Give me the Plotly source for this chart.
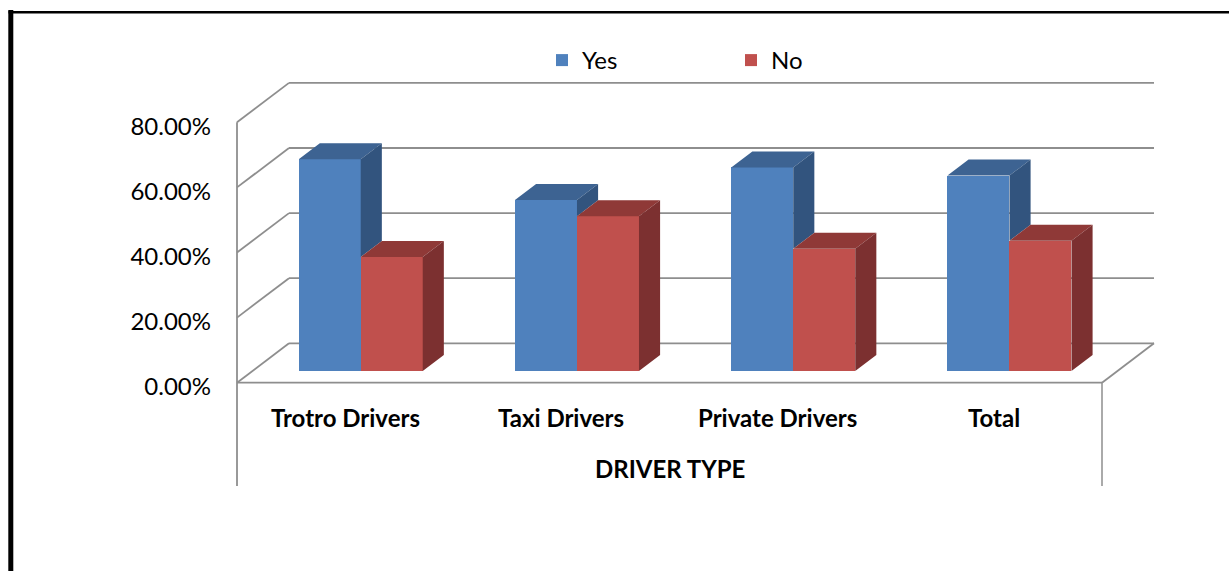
import plotly.graph_objects as go

# ---- data -------------------------------------------------------------
categories = ["Trotro Drivers", "Taxi Drivers", "Private Drivers", "Total"]
yes_pct = [65.0, 52.5, 62.5, 60.0]
no_pct = [35.0, 47.5, 37.5, 40.0]
y_ticks = [0, 20, 40, 60, 80]
axis_title = "DRIVER TYPE"

# ---- pseudo-3D geometry (data units) -----------------------------------
W, H = 1229, 571
SX = 216.25          # px per category unit
SY = 3.255           # px per percentage point
X0_PX, Y0_PX = 237, 382.7   # pixel position of (0, 0)

DEPTH_DX = 52 / SX   # floor depth, horizontal component
DEPTH_DY = 39.4 / SY # floor depth, vertical component
BAR_POS = 0.30       # bars stand 30% of the way into the floor
BAR_DEPTH = 0.406    # bar depth as fraction of floor depth
BAR_W = 62 / SX

BASE = BAR_POS * DEPTH_DY
SHIFT = BAR_POS * DEPTH_DX
BDX = BAR_DEPTH * DEPTH_DX
BDY = BAR_DEPTH * DEPTH_DY

# plot area (integer margins) and the matching axis ranges
M_L, M_R, M_T, M_B = 226, 62, 73, 84
x_range = [(M_L - X0_PX) / SX, (W - M_R - X0_PX) / SX]
y_range = [(Y0_PX - (H - M_B)) / SY, (Y0_PX - M_T) / SY]
Y_LABEL_BOTTOM = (Y0_PX - 486) / SY

BLUE, BLUE_TOP, BLUE_SIDE = "#4F81BD", "#3D6392", "#32547E"
RED, RED_TOP, RED_SIDE = "#C0504D", "#8F3937", "#7C3030"
GRID = "#8E8E8E"
FONT = "Lato"

n = len(categories)
yes_x = [i + 0.5 + SHIFT - BAR_W / 2 for i in range(n)]
no_x = [i + 0.5 + SHIFT + BAR_W / 2 for i in range(n)]


def poly_trace(polys, color):
    xs, ys = [], []
    for p in polys:
        for (px, py) in p + [p[0]]:
            xs.append(px)
            ys.append(py)
        xs.append(None)
        ys.append(None)
    return go.Scatter(x=xs, y=ys, mode="lines", fill="toself", fillcolor=color,
                      line=dict(width=0, color=color), hoverinfo="skip",
                      showlegend=False, cliponaxis=False)


def top_face(cx, v):
    xl, xr, yt = cx - BAR_W / 2, cx + BAR_W / 2, BASE + v
    return [(xl, yt), (xr, yt), (xr + BDX, yt + BDY), (xl + BDX, yt + BDY)]


def side_face(cx, v, lo=0.0):
    xr, yt = cx + BAR_W / 2, BASE + v
    yb = BASE + lo
    return [(xr, yb), (xr + BDX, yb + BDY), (xr + BDX, yt + BDY), (xr, yt)]


fig = go.Figure()

# front faces
fig.add_trace(go.Bar(x=yes_x, y=yes_pct, base=BASE, width=BAR_W, name="Yes",
                     marker=dict(color=BLUE, line=dict(width=0))))
fig.add_trace(go.Bar(x=no_x, y=no_pct, base=BASE, width=BAR_W, name="No",
                     marker=dict(color=RED, line=dict(width=0))))

# "Yes" tops and the part of each "Yes" side not hidden by the "No" bar
fig.add_trace(poly_trace([top_face(c, v) for c, v in zip(yes_x, yes_pct)], BLUE_TOP))
fig.add_trace(poly_trace([side_face(c, v, lo) for c, v, lo in zip(yes_x, yes_pct, no_pct) if v > lo],
                         BLUE_SIDE))
# "No" tops and sides
fig.add_trace(poly_trace([top_face(c, v) for c, v in zip(no_x, no_pct)], RED_TOP))
fig.add_trace(poly_trace([side_face(c, v) for c, v in zip(no_x, no_pct)], RED_SIDE))

# ---- walls, floor and label box ----------------------------------------
shapes = []
line = dict(color=GRID, width=1.8)
for t in y_ticks:
    shapes.append(dict(type="line", xref="x", yref="y", layer="below",
                       x0=DEPTH_DX, y0=t + DEPTH_DY, x1=n + DEPTH_DX, y1=t + DEPTH_DY, line=line))
    shapes.append(dict(type="line", xref="x", yref="y", layer="below",
                       x0=0, y0=t, x1=DEPTH_DX, y1=t + DEPTH_DY, line=line))
shapes.append(dict(type="line", xref="x", yref="y", layer="below",
                   x0=0, y0=0, x1=n, y1=0, line=line))
shapes.append(dict(type="line", xref="x", yref="y", layer="below",
                   x0=n, y0=0, x1=n + DEPTH_DX, y1=DEPTH_DY, line=line))
shapes.append(dict(type="line", xref="x", yref="y", layer="below",
                   x0=0, y0=Y_LABEL_BOTTOM, x1=0, y1=y_ticks[-1], line=line))
shapes.append(dict(type="line", xref="x", yref="y", layer="below",
                   x0=n, y0=Y_LABEL_BOTTOM, x1=n, y1=0, line=dict(color=GRID, width=1.5)))


# outer frame (paper coordinates from pixel positions)
def pxx(p):
    return (p - M_L) / (W - M_L - M_R)


def pxy(p):
    return 1 - (p - M_T) / (H - M_T - M_B)


shapes.append(dict(type="line", xref="paper", yref="paper", x0=pxx(10.8), y0=pxy(10),
                   x1=pxx(10.8), y1=pxy(575), line=dict(color="black", width=5)))
shapes.append(dict(type="line", xref="paper", yref="paper", x0=pxx(8.5), y0=pxy(12.2),
                   x1=pxx(1232), y1=pxy(12.2), line=dict(color="black", width=2.6)))

# ---- category labels and axis title --------------------------------------
annotations = []
for i, c in enumerate(categories):
    annotations.append(dict(x=i + 0.5, y=(Y0_PX - 417) / SY, xref="x", yref="y",
                            text="<b>%s</b>" % c, showarrow=False,
                            font=dict(family=FONT, size=24, color="black")))
annotations.append(dict(x=n / 2, y=(Y0_PX - 468) / SY, xref="x", yref="y",
                        text="<b>%s</b>" % axis_title, showarrow=False,
                        font=dict(family=FONT, size=24, color="black")))

fig.update_layout(
    width=W, height=H,
    margin=dict(l=M_L, r=M_R, t=M_T, b=M_B, autoexpand=False),
    paper_bgcolor="white", plot_bgcolor="white",
    barmode="overlay", bargap=0,
    shapes=shapes, annotations=annotations,
    font=dict(family=FONT, color="black"),
    showlegend=True,
    legend=dict(orientation="h", x=pxx(542), y=pxy(38), xanchor="left", yanchor="top",
                font=dict(family=FONT, size=24, color="black"),
                entrywidth=144, bgcolor="rgba(0,0,0,0)"),
    xaxis=dict(range=x_range, showgrid=False, zeroline=False, showline=False,
               showticklabels=False, ticks="", fixedrange=True),
    yaxis=dict(range=y_range, showgrid=False, zeroline=False, showline=False,
               tickvals=y_ticks, ticktext=["%.2f%%" % t for t in y_ticks],
               ticks="", ticklabelstandoff=14, ticklabelshift=4,
               tickfont=dict(family=FONT, size=24, color="black"), fixedrange=True),
)

fig.write_html("out.html")
